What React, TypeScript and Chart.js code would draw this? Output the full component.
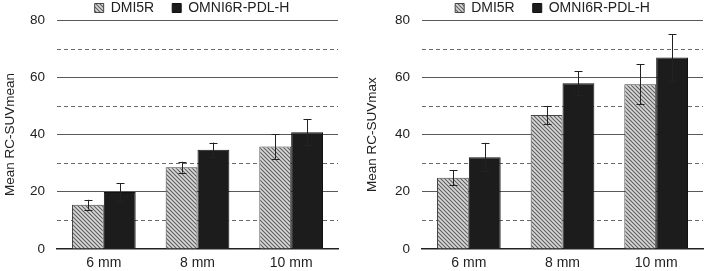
import React, { useEffect, useRef } from "react";
import { Chart, registerables } from "chart.js";
Chart.register(...registerables);

const categories = ["6 mm", "8 mm", "10 mm"];
const seriesNames = ["DMI5R", "OMNI6R-PDL-H"];
const meanDMI = [15.5, 28.6, 35.8];
const meanDMIErr = [1.7, 1.9, 4.3];
const meanOMNI = [19.9, 34.7, 40.8];
const meanOMNIErr = [3.0, 2.5, 4.6];
const maxDMI = [24.9, 46.8, 57.6];
const maxDMIErr = [2.6, 3.2, 7.0];
const maxOMNI = [32.1, 57.9, 66.9];
const maxOMNIErr = [5.0, 4.2, 8.1];
const yMin = 0;
const yMax = 80;
const yStep = 20;
const dashedLevels = [10, 30, 50, 70];

const FONT = "'Liberation Sans', Arial, sans-serif";
const LEGEND_PAD = 18;
const LEGEND_FONT = 14;

function makePattern(): CanvasPattern | string {
  const c = document.createElement("canvas");
  c.width = 4;
  c.height = 4;
  const g = c.getContext("2d");
  if (!g) return "#999";
  g.fillStyle = "#d8d8d8";
  g.fillRect(0, 0, 4, 4);
  g.strokeStyle = "#5e5e5e";
  g.lineWidth = 1.1;
  g.beginPath();
  g.moveTo(-1, -1);
  g.lineTo(5, 5);
  g.moveTo(-1, 3);
  g.lineTo(1, 5);
  g.moveTo(3, -1);
  g.lineTo(5, 1);
  g.stroke();
  const p = g.createPattern(c, "repeat");
  return p || "#999";
}

const errorBarPlugin = {
  id: "errorBars",
  afterDatasetsDraw(chart: any) {
    const ctx = chart.ctx;
    const yScale = chart.scales.y;
    ctx.save();
    ctx.strokeStyle = "#222";
    ctx.lineWidth = 1;
    chart.data.datasets.forEach((ds: any, di: number) => {
      const meta = chart.getDatasetMeta(di);
      const errs: number[] = ds.errors || [];
      meta.data.forEach((el: any, i: number) => {
        const v = ds.data[i];
        const e = errs[i] || 0;
        const x = Math.round(el.x) + 0.5;
        const yt = yScale.getPixelForValue(v + e);
        const yb = yScale.getPixelForValue(v - e);
        ctx.beginPath();
        ctx.moveTo(x, yt);
        ctx.lineTo(x, yb);
        ctx.moveTo(x - 4, Math.round(yt) + 0.5);
        ctx.lineTo(x + 4, Math.round(yt) + 0.5);
        ctx.moveTo(x - 4, Math.round(yb) + 0.5);
        ctx.lineTo(x + 4, Math.round(yb) + 0.5);
        ctx.stroke();
      });
    });
    ctx.restore();
  },
};

const dashedGridPlugin = {
  id: "dashedGrid",
  beforeDatasetsDraw(chart: any) {
    const ctx = chart.ctx;
    const yScale = chart.scales.y;
    const { left, right } = chart.chartArea;
    ctx.save();
    ctx.strokeStyle = "#6a6a6a";
    ctx.lineWidth = 1;
    ctx.setLineDash([4, 3]);
    dashedLevels.forEach((lv) => {
      const y = Math.round(yScale.getPixelForValue(lv)) + 0.5;
      ctx.beginPath();
      ctx.moveTo(left, y);
      ctx.lineTo(right, y);
      ctx.stroke();
    });
    ctx.restore();
  },
};

function makeLegendAdjust(center: number, legendHeight: number, textMidY: number) {
  return {
    id: "legendAdjust",
    beforeLayout(chart: any) {
      const lg = chart.legend;
      if (lg && !lg.__patched) {
        const f = lg.fit.bind(lg);
        lg.fit = function () {
          f();
          this.height = legendHeight;
        };
        lg.__patched = true;
      }
    },
    afterLayout(chart: any) {
      const lg = chart.legend;
      if (!lg) return;
      const shift = center - (lg.left + lg.right) / 2;
      lg.left += shift;
      lg.right += shift;
      lg.top = textMidY - LEGEND_PAD - LEGEND_FONT / 2;
      lg.bottom = legendHeight;
    },
  };
}

function BarChart(props: {
  a: number[];
  aErr: number[];
  b: number[];
  bErr: number[];
  title: string;
  yWidth: number;
  padRight: number;
  width: number;
  legendCenter: number;
}) {
  const ref = useRef<HTMLCanvasElement | null>(null);
  useEffect(() => {
    if (!ref.current) return;
    const pattern = makePattern();
    const chart = new Chart(ref.current, {
      type: "bar",
      data: {
        labels: categories,
        datasets: [
          {
            label: seriesNames[0],
            data: props.a,
            errors: props.aErr,
            backgroundColor: pattern,
            borderColor: "#444",
            borderWidth: 1,
            barPercentage: 1,
            categoryPercentage: 0.68,
          } as any,
          {
            label: seriesNames[1],
            data: props.b,
            errors: props.bErr,
            backgroundColor: "#1c1c1c",
            borderColor: "#111",
            borderWidth: 1,
            barPercentage: 1,
            categoryPercentage: 0.68,
          } as any,
        ],
      },
      options: {
        animation: false,
        responsive: false,
        maintainAspectRatio: false,
        layout: { padding: { left: 0, right: props.padRight, top: 0, bottom: -6.8 } },
        plugins: {
          legend: {
            display: true,
            position: "top",
            labels: {
              boxWidth: 9,
              boxHeight: 9,
              padding: LEGEND_PAD,
              color: "#222",
              font: { family: FONT, size: LEGEND_FONT },
            },
          },
          tooltip: { enabled: false },
        },
        scales: {
          x: {
            grid: { display: false, drawTicks: false },
            border: { display: true, color: "#222", width: 1.5 },
            ticks: { color: "#222", font: { family: FONT, size: 14 }, padding: 6 },
          },
          y: {
            min: yMin,
            max: yMax,
            afterFit: (s: any) => {
              s.width = props.yWidth;
            },
            ticks: {
              stepSize: yStep,
              color: "#222",
              font: { family: FONT, size: 13.5 },
              padding: 12,
            },
            grid: {
              drawTicks: false,
              color: (c: any) => (c.tick && c.tick.value === 0 ? "rgba(0,0,0,0)" : "#5a5a5a"),
              lineWidth: 1,
            },
            border: { display: false },
            title: {
              display: true,
              text: props.title,
              color: "#222",
              font: { family: FONT, size: 13.5 },
              padding: { top: 2, bottom: 8 },
            },
          },
        },
      },
      plugins: [dashedGridPlugin, errorBarPlugin, makeLegendAdjust(props.legendCenter, 19, 8)],
    } as any);
    return () => chart.destroy();
  }, []);
  return <canvas ref={ref} width={props.width} height={271} style={{ display: "block" }} />;
}

export default function App() {
  return (
    <div style={{ position: "fixed", left: 0, top: 0, width: 709, height: 271, background: "#fff", display: "flex" }}>
      <div style={{ width: 362, height: 271 }}>
        <BarChart
          a={meanDMI}
          aErr={meanDMIErr}
          b={meanOMNI}
          bErr={meanOMNIErr}
          title="Mean RC-SUVmean"
          yWidth={57}
          padRight={24}
          width={362}
          legendCenter={192}
        />
      </div>
      <div style={{ width: 347, height: 271 }}>
        <BarChart
          a={maxDMI}
          aErr={maxDMIErr}
          b={maxOMNI}
          bErr={maxOMNIErr}
          title="Mean RC-SUVmax"
          yWidth={60}
          padRight={6}
          width={347}
          legendCenter={190.5}
        />
      </div>
    </div>
  );
}
